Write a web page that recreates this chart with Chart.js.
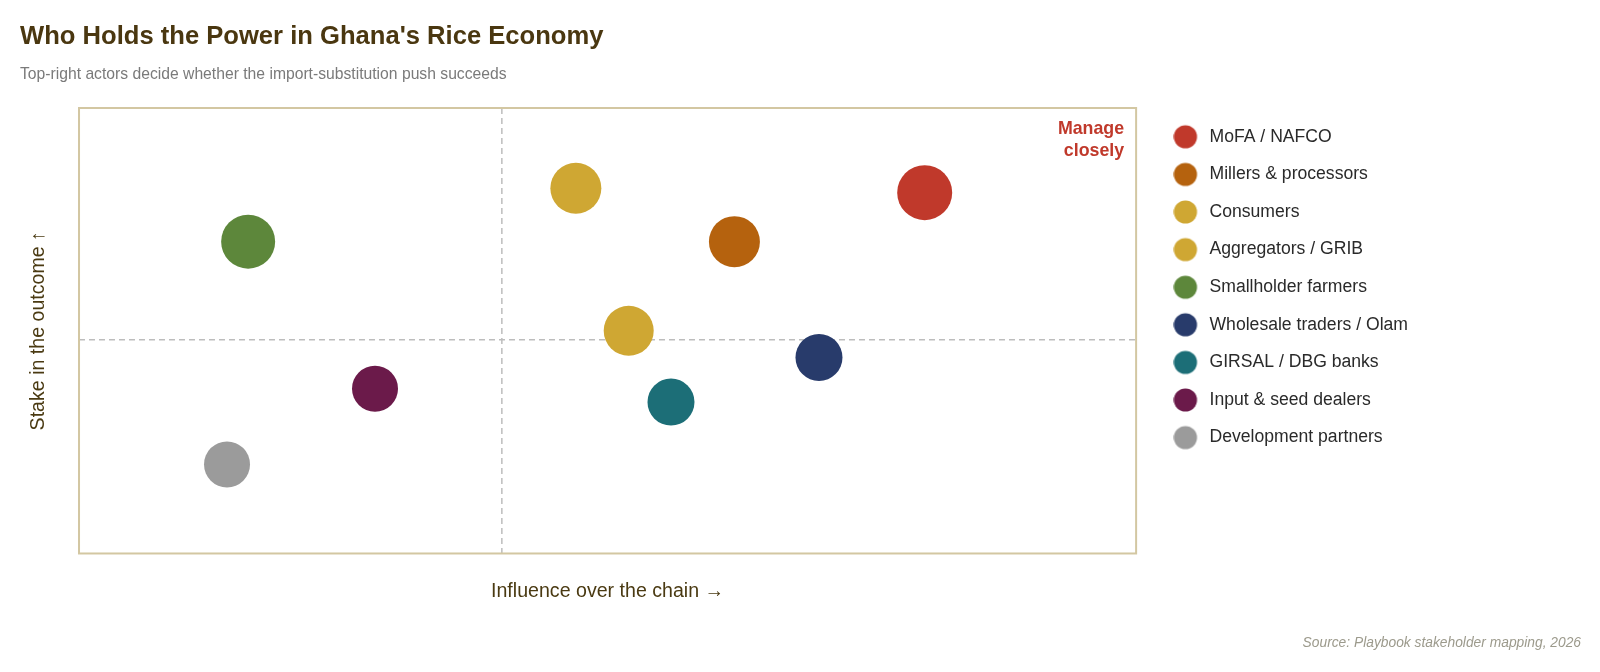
<!DOCTYPE html>
<html>
<head>
<meta charset="utf-8">
<script src="https://cdn.jsdelivr.net/npm/chart.js@4.4.1/dist/chart.umd.min.js"></script>
<style>
  html, body { margin: 0; padding: 0; background: #ffffff; }
  #wrap { position: relative; width: 1600px; height: 672px; overflow: hidden;
          font-family: "Liberation Sans", Arial, Helvetica, sans-serif; }
  #chart { position: absolute; left: 0; top: 0; }
  #title { position: absolute; left: 20px; top: 23.3px; margin: 0; font-size: 25.6px; line-height: 25.6px;
           font-weight: bold; color: #4a3710; white-space: nowrap; }
  #subtitle { position: absolute; left: 20px; top: 65.7px; margin: 0; font-size: 15.7px; line-height: 15.7px;
              color: #7a7a7a; white-space: nowrap; }
  #source { position: absolute; right: 19px; top: 636px; margin: 0; font-size: 13.8px; line-height: 13.8px;
            font-style: italic; color: #9c9a8c; white-space: nowrap; }
</style>
</head>
<body>
<div id="wrap">
  <canvas id="chart" width="1600" height="672"></canvas>
  <div id="title">Who Holds the Power in Ghana's Rice Economy</div>
  <div id="subtitle">Top-right actors decide whether the import-substitution push succeeds</div>
  <div id="source">Source: Playbook stakeholder mapping, 2026</div>
</div>
<script>
// ---- Data ----
const actors = [
  "MoFA / NAFCO",
  "Millers & processors",
  "Consumers",
  "Aggregators / GRIB",
  "Smallholder farmers",
  "Wholesale traders / Olam",
  "GIRSAL / DBG banks",
  "Input & seed dealers",
  "Development partners"
];
const influence = [8.0, 6.2, 4.7, 5.2, 1.6, 7.0, 5.6, 2.8, 1.4];   // x: influence over the chain
const stake     = [8.1, 7.0, 8.2, 5.0, 7.0, 4.4, 3.4, 3.7, 2.0];   // y: stake in the outcome
const weight    = [27.5, 25.5, 25.5, 25, 27, 23.5, 23.5, 23, 23];  // bubble size
const colors    = ["#c0392b", "#b5620e", "#cfa733", "#cfa733", "#5d873b",
                   "#283b6b", "#1c6e77", "#6b1a4a", "#9b9b9b"];
const splitX = 4.0;   // quadrant divider on influence
const splitY = 4.8;   // quadrant divider on stake
const axisMin = 0, axisMax = 10;
const xTitle = "Influence over the chain \u2192";
const yTitle = "Stake in the outcome \u2191";
const cornerLabel = ["Manage", "closely"];

const FONT = '"Liberation Sans", Arial, Helvetica, sans-serif';
Chart.defaults.font.family = FONT;

const datasets = actors.map((name, i) => ({
  label: name,
  data: [{ x: influence[i], y: stake[i], r: weight[i] }],
  backgroundColor: colors[i],
  borderColor: colors[i],
  borderWidth: 0,
  hoverRadius: 0,
  hoverBorderWidth: 0
}));

// legend marker: a filled circle, drawn a little left of the legend box centre
function legendDot(color) {
  const c = document.createElement('canvas');
  const r = 11.6, shift = 6.5;
  c.width = Math.ceil(2 * (r + shift));
  c.height = Math.ceil(2 * r) + 2;
  const g = c.getContext('2d');
  g.fillStyle = color;
  g.beginPath();
  g.arc(c.width / 2 - shift, c.height / 2, r, 0, Math.PI * 2);
  g.fill();
  return c;
}
const legendDots = colors.map(legendDot);

const quadrantPlugin = {
  id: 'quadrants',
  beforeDatasetsDraw(chart) {
    const { ctx, chartArea: a, scales: { x, y } } = chart;
    const mx = x.getPixelForValue(splitX);
    const my = y.getPixelForValue(splitY);
    ctx.save();
    ctx.strokeStyle = '#bdbdbd';
    ctx.lineWidth = 1.5;
    ctx.setLineDash([6, 4]);
    ctx.beginPath();
    ctx.moveTo(mx, a.top); ctx.lineTo(mx, a.bottom);
    ctx.moveTo(a.left, my); ctx.lineTo(a.right, my);
    ctx.stroke();
    ctx.restore();
  },
  afterDatasetsDraw(chart) {
    const { ctx, chartArea: a } = chart;
    ctx.save();
    ctx.strokeStyle = '#d3c7a2';
    ctx.lineWidth = 2;
    ctx.strokeRect(a.left, a.top, a.right - a.left, a.bottom - a.top);
    ctx.fillStyle = '#c0392b';
    ctx.font = 'bold 17.8px ' + FONT;
    ctx.textAlign = 'right';
    ctx.textBaseline = 'alphabetic';
    cornerLabel.forEach((t, i) => ctx.fillText(t, a.right - 12, a.top + 25.5 + i * 22.3));
    ctx.restore();
  }
};

new Chart(document.getElementById('chart'), {
  type: 'bubble',
  data: { datasets },
  options: {
    responsive: false,
    animation: false,
    events: [],
    layout: { padding: { top: 108, left: 0, right: 182, bottom: 68.5 } },
    scales: {
      x: {
        type: 'linear', min: axisMin, max: axisMax,
        grid: { display: false, drawTicks: false },
        border: { display: false },
        ticks: { display: false },
        title: { display: true, text: xTitle, color: '#4a3a12',
                 font: { size: 19.6, family: FONT }, padding: { top: 26.5, bottom: 0 } }
      },
      y: {
        type: 'linear', min: axisMin, max: axisMax,
        grid: { display: false, drawTicks: false },
        border: { display: false },
        ticks: { display: false },
        title: { display: true, text: yTitle, color: '#4a3a12',
                 font: { size: 19.6, family: FONT }, padding: { top: 27.2, bottom: 28.3 } }
      },
      gap: {
        type: 'linear', position: 'right', display: true,
        grid: { display: false, drawTicks: false },
        border: { display: false },
        ticks: { display: false },
        afterFit(s) { s.width = 27; }
      }
    },
    plugins: {
      legend: {
        position: 'right',
        align: 'start',
        maxWidth: 400,
        labels: {
          usePointStyle: true,
          boxHeight: 16.3,
          padding: 20,
          color: '#2a2a2a',
          font: { size: 17.6, family: FONT },
          generateLabels(chart) {
            const items = Chart.defaults.plugins.legend.labels.generateLabels(chart);
            items.forEach(it => { it.pointStyle = legendDots[it.datasetIndex]; });
            return items;
          }
        }
      },
      tooltip: { enabled: false },
      title: { display: false }
    }
  },
  plugins: [quadrantPlugin]
});
</script>
</body>
</html>
